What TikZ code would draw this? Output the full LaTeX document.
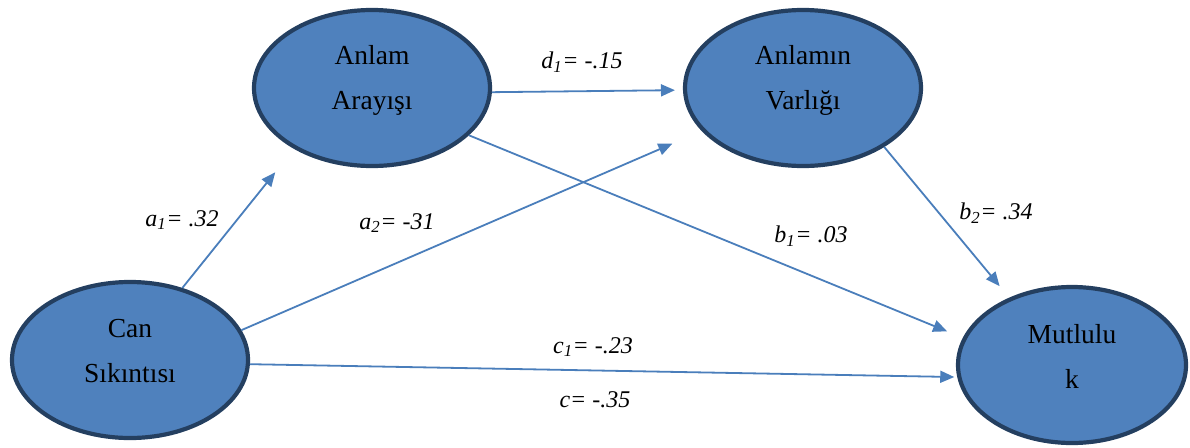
\documentclass[tikz,border=0pt]{standalone}
\usepackage{fontspec}
\setmainfont{Liberation Serif}
\usetikzlibrary{shapes.geometric,arrows.meta}
\definecolor{nodefill}{HTML}{4F81BD}
\definecolor{nodeborder}{HTML}{243F60}
\definecolor{arrowcol}{HTML}{4A7EBB}
\begin{document}
\begin{tikzpicture}[x=1pt,y=-1pt,
  var/.style={ellipse,draw=nodeborder,fill=nodefill,line width=4.2pt,
    minimum width=236pt,minimum height=156pt,inner sep=0pt},
  vartext/.style={align=center,font=\fontsize{27.5}{45}\selectfont,text=black,inner sep=0pt},
  arr/.style={draw=arrowcol,line width=1.8pt,-{Triangle[length=14pt,width=12pt]}},
  lbl/.style={font=\fontsize{24}{26}\selectfont\itshape,inner sep=0pt}]
\useasboundingbox (0,0) rectangle (1190,447);
% nodes
\node[var] (ara) at (372,88) {};
\node[var] (var) at (803,88) {};
\node[var] (can) at (130,360) {};
\node[var,minimum width=228pt] (mut) at (1072,365) {};
\node[vartext] (araT) at ([yshift=8pt]ara.center) {Anlam\\Arayışı};
\node[vartext] (varT) at ([yshift=8pt]var.center) {Anlamın\\Varlığı};
\node[vartext] (canT) at ([yshift=9pt]can.center) {Can\\Sıkıntısı};
\node[vartext] (mutT) at ([yshift=9pt]mut.center) {Mutlulu\\k};
% connectors
\draw[arr,shorten >=30pt] (can.54) -- (ara.218);
\draw[arr,shorten >=32pt] (can.15) -- (var.203);
\draw[arr,shorten >=8pt] (ara.-2) -- (var.181);
\draw[arr,shorten >=17pt] (ara.-26) -- (mut.166);
\draw[arr,shorten >=15pt] (var.-36) -- (mut.133);
\draw[arr,shorten >=3pt] (can.-2) -- (mut.186);
% labels
\node[lbl] (ld) at (582,62) {d\textsubscript{1}= -.15};
\node[lbl] (la1) at (182,220) {a\textsubscript{1}= .32};
\node[lbl] (la2) at (397,223) {a\textsubscript{2}= -31};
\node[lbl] (lb1) at (811,236) {b\textsubscript{1}= .03};
\node[lbl] (lb2) at (996,213) {b\textsubscript{2}= .34};
\node[lbl] (lc1) at (593,347) {c\textsubscript{1}= -.23};
\node[lbl] (lc) at (595,400) {c= -.35};
\end{tikzpicture}
\end{document}
